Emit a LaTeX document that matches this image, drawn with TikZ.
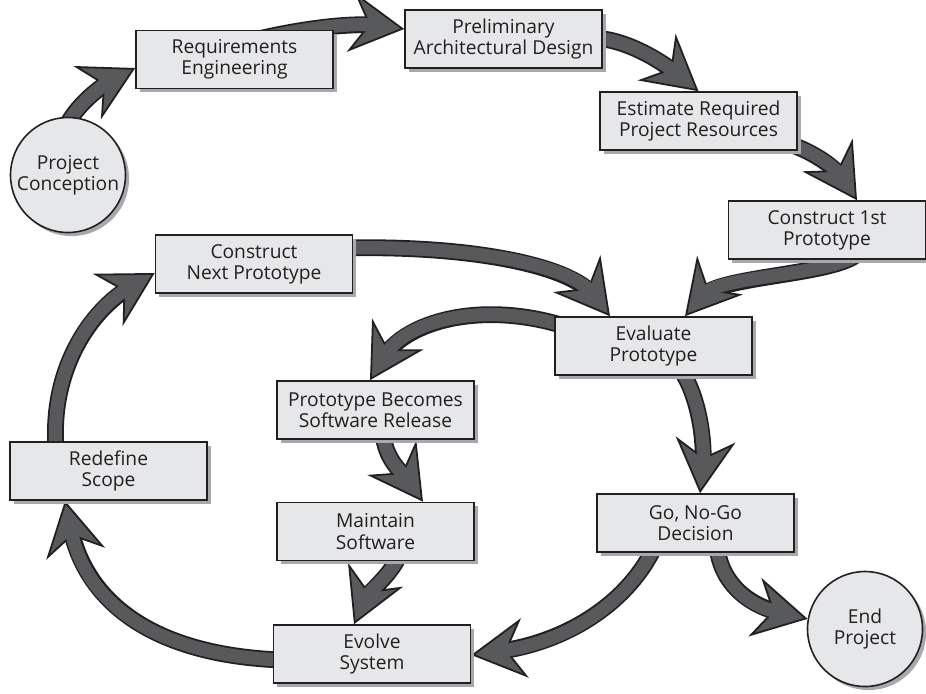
\documentclass[tikz,border=0pt]{standalone}
\usepackage{fontspec}
\setmainfont{Open Sans}
\usetikzlibrary{arrows.meta,shadows,calc}
\definecolor{boxfill}{HTML}{E6E7E8}
\definecolor{ink}{HTML}{231F20}
\definecolor{agray}{HTML}{58595B}
\definecolor{shade}{HTML}{A7A9AC}
\pgfdeclarelayer{bg}
\pgfsetlayers{bg,main}
\tikzset{
  txt/.style={align=center, text=ink, font=\fontsize{9.6}{10.6}\selectfont},
  stepbox/.style={txt, draw=ink, line width=0.8pt, fill=boxfill,
    minimum width=98.5pt, minimum height=29pt, inner sep=0pt,
    drop shadow={shadow xshift=1.8pt, shadow yshift=-1.8pt, fill=shade, opacity=1}},
  termcirc/.style={txt, circle, draw=ink, line width=0.8pt, fill=boxfill,
    minimum size=57.5pt, inner sep=0pt,
    drop shadow={shadow xshift=1.8pt, shadow yshift=-1.8pt, fill=shade, opacity=1}},
  bodyout/.style={draw=ink, line width=8.4pt, shorten >=13pt},
  bodyin/.style={draw=agray, line width=6.6pt, shorten >=14.5pt},
  headonly/.style={draw=agray, line width=0.4pt,
    -{Stealth[length=27pt, width=30pt, inset=9pt, color=ink, fill=agray, line width=0.9pt]}},
}
\newcommand{\bigarr}[1]{%
  \draw[bodyout] #1;
  \draw[headonly] #1;
  \draw[bodyin] #1;
}
\begin{document}
\begin{tikzpicture}[x=0.5pt, y=-0.5pt]
\useasboundingbox (0,0) rectangle (926,693);
\begin{pgfonlayer}{bg}
  \fill[white] (0,0) rectangle (926,693);
\end{pgfonlayer}

\node[termcirc] (concept) at (68,175) {Project\\Conception};
\node[stepbox] (req) at (234.5,59.5) {Requirements\\Engineering};
\node[stepbox] (pad) at (503.5,39) {Preliminary\\Architectural Design};
\node[stepbox] (est) at (698.5,121) {Estimate Required\\Project Resources};
\node[stepbox] (c1) at (827,230) {Construct 1st\\Prototype};
\node[stepbox] (eval) at (653.5,346) {Evaluate\\Prototype};
\node[stepbox] (gonogo) at (695.5,523) {Go, No-Go\\Decision};
\node[termcirc] (endp) at (865,629) {End\\Project};
\node[stepbox] (pbsr) at (375.5,410) {Prototype Becomes\\Software Release};
\node[stepbox] (maint) at (375.5,531.5) {Maintain\\Software};
\node[stepbox] (evolve) at (372,654) {Evolve\\System};
\node[stepbox] (redef) at (108.5,471) {Redefine\\Scope};
\node[stepbox] (cnext) at (254,264) {Construct\\Next Prototype};

\begin{pgfonlayer}{bg}
  \bigarr{($(concept.north)+(-1,8)$) .. controls (80,100) and (108,82) .. ($(req.west)+(0,8.5)$)}
  \bigarr{($(req.north)+(5.5,14)$) .. controls (290,30) and (350,22) .. ($(pad.west)+(0,-10)$)}
  \bigarr{($(pad.east)+(-12,-1)$) .. controls (630,38) and (670,68) .. (est.north)}
  \bigarr{($(est.east)+(-22,19)$) .. controls (810,148) and (836,168) .. ($(c1.north)+(30,0)$)}
  \bigarr{($(c1.south)+(33,-9)$) .. controls (845,275) and (720,275) .. ($(eval.north)+(31.5,0)$)}
  \bigarr{($(cnext.east)+(-12,-16)$) .. controls (470,245) and (570,265) .. ($(eval.north)+(-43.5,0)$)}
  \bigarr{($(eval.west)+(10,-20)$) .. controls (480,300) and (405,322) .. ($(pbsr.north)+(-5.5,0)$)}
  \bigarr{($(eval.south)+(24.5,-10)$) .. controls (700,395) and (705,445) .. ($(gonogo.north)+(4.5,0)$)}
  \bigarr{($(gonogo.south)+(21.5,-7)$) .. controls (720,580) and (745,605) .. (endp.170)}
  \bigarr{($(gonogo.south)+(-40.5,-7)$) .. controls (630,600) and (570,642) .. ($(evolve.east)+(0,1)$)}
  \bigarr{($(maint.south)+(24.5,-8)$) .. controls (392,575) and (368,592) .. ($(evolve.north)+(-18,0)$)}
  \bigarr{($(pbsr.south)+(7.5,-7)$) .. controls (385,460) and (402,472) .. ($(maint.north)+(47.5,0)$)}
  \bigarr{($(evolve.west)+(9,6)$) .. controls (150,655) and (85,600) .. ($(redef.south)+(-43.5,0)$)}
  \bigarr{($(redef.north)+(-52.5,8)$) .. controls (50,370) and (90,310) .. ($(cnext.west)+(0,9)$)}
\end{pgfonlayer}
\end{tikzpicture}
\end{document}
